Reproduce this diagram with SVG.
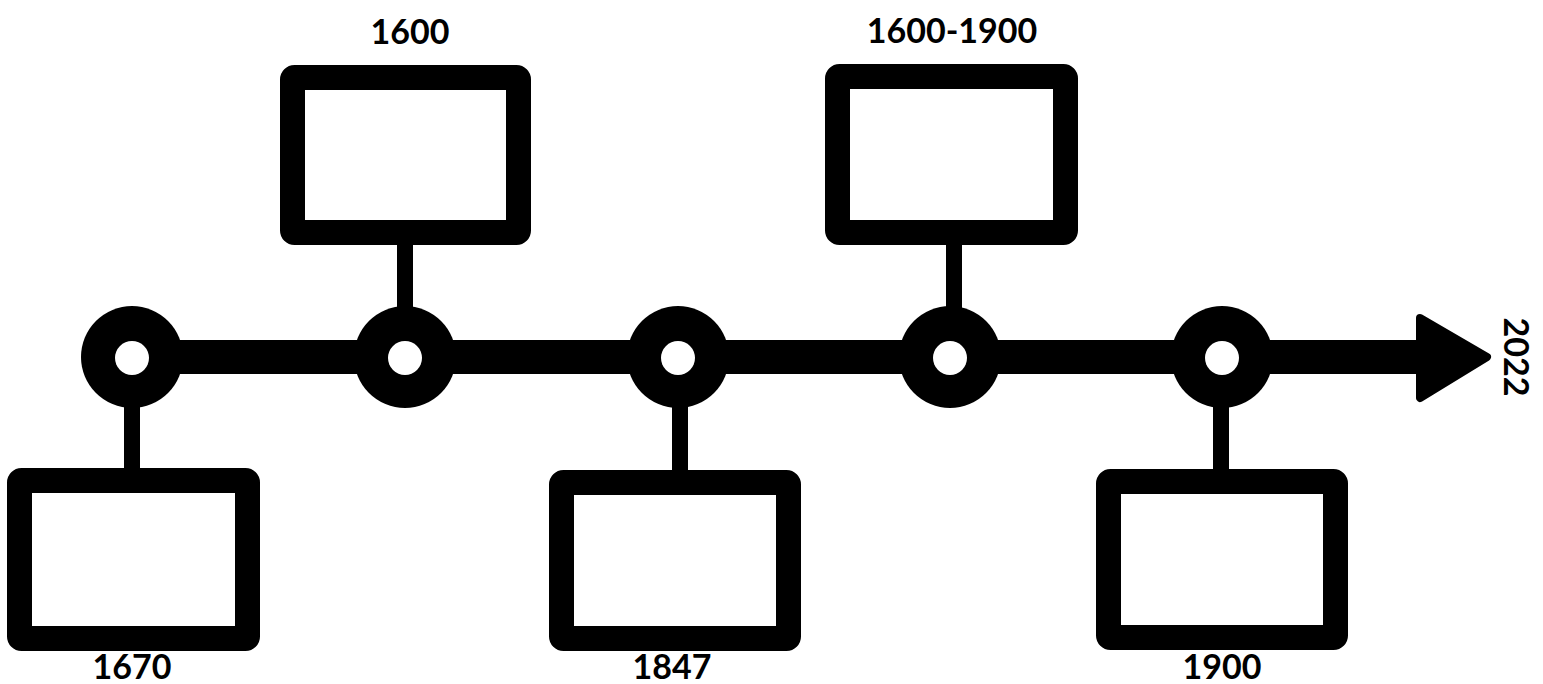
<svg xmlns="http://www.w3.org/2000/svg" width="1543" height="684" viewBox="0 0 1543 684">
<style>
.box{fill:#fff;stroke:#000;stroke-width:25;stroke-linejoin:round}
.ring{fill:#000}
.hole{fill:#fff}
.stem{stroke:#000;stroke-width:16;fill:none}
.lbl{font-family:Lato,"Noto Sans",sans-serif;font-weight:bold;font-size:34px;fill:#000;text-anchor:middle}
</style>
<rect width="1543" height="684" fill="#fff"/>
<g id="connectors">
<line x1="132" y1="357" x2="1425" y2="357" stroke="#000" stroke-width="34"/>
<polygon points="1420,318 1487,357 1420,398" fill="#000" stroke="#000" stroke-width="8" stroke-linejoin="round"/>
<line class="stem" x1="405" y1="240" x2="405" y2="315"/>
<line class="stem" x1="954" y1="240" x2="954" y2="315"/>
<line class="stem" x1="132" y1="400" x2="132" y2="472"/>
<line class="stem" x1="680" y1="400" x2="680" y2="474"/>
<line class="stem" x1="1221" y1="400" x2="1221" y2="472"/>
</g>
<g id="node-1670">
<circle class="ring" cx="132" cy="357" r="51"/>
<circle class="hole" cx="132" cy="358" r="17"/>
<rect class="box" x="19.5" y="480.5" width="228" height="158" rx="2"/>
<text class="lbl" x="132" y="679">1670</text>
</g>
<g id="node-1600">
<circle class="ring" cx="405" cy="357" r="51"/>
<circle class="hole" cx="405" cy="358" r="17"/>
<rect class="box" x="292.5" y="77.5" width="226" height="155" rx="2"/>
<text class="lbl" x="410" y="44">1600</text>
</g>
<g id="node-1847">
<circle class="ring" cx="678" cy="357" r="51"/>
<circle class="hole" cx="678" cy="358" r="17"/>
<rect class="box" x="561.5" y="482.5" width="227" height="156" rx="2"/>
<text class="lbl" x="672" y="679">1847</text>
</g>
<g id="node-1600-1900">
<circle class="ring" cx="950" cy="357" r="51"/>
<circle class="hole" cx="950" cy="358" r="17"/>
<rect class="box" x="837.5" y="76.5" width="228" height="156" rx="2"/>
<text class="lbl" x="952" y="43">1600-1900</text>
</g>
<g id="node-1900">
<circle class="ring" cx="1222" cy="357" r="51"/>
<circle class="hole" cx="1222" cy="358" r="17"/>
<rect class="box" x="1108.5" y="481.5" width="227" height="156" rx="2"/>
<text class="lbl" x="1222" y="679">1900</text>
</g>
<g id="label-2022">
<text class="lbl" x="1517" y="357" dominant-baseline="central" transform="rotate(90 1517 357)">2022</text>
</g>
</svg>
